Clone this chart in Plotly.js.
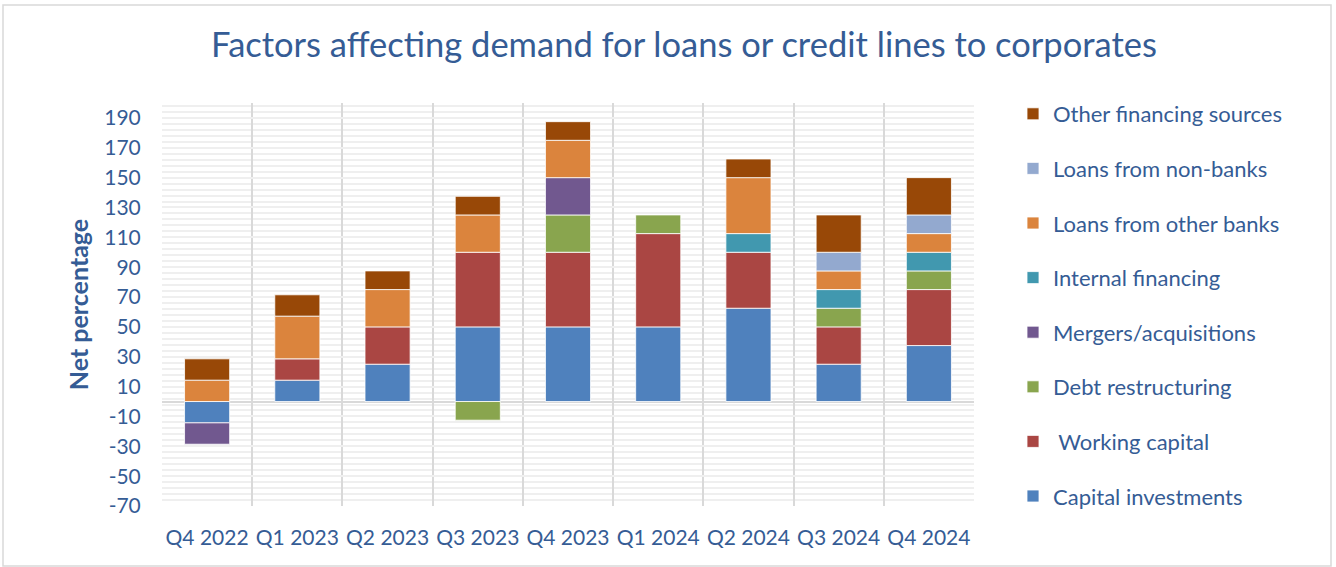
<!DOCTYPE html>
<html>
<head>
<meta charset="utf-8">
<script src="https://cdn.plot.ly/plotly-3.0.1.min.js"></script>
<style>
html,body{margin:0;padding:0;background:#fff;}
#chart{width:1336px;height:567px;}
</style>
</head>
<body>
<div id="chart"></div>
<script>
const quarters = ["Q4 2022","Q1 2023","Q2 2023","Q3 2023","Q4 2023","Q1 2024","Q2 2024","Q3 2024","Q4 2024"];
const capitalInvestments = [-14.3, 14.3, 25, 50, 50, 50, 62.5, 25, 37.5];
const workingCapital     = [null, 14.3, 25, 50, 50, 62.5, 37.5, 25, 37.5];
const debtRestructuring  = [null, null, null, -12.5, 25, 12.5, null, 12.5, 12.5];
const mergersAcquisitions= [-14.3, null, null, null, 25, null, null, null, null];
const internalFinancing  = [null, null, null, null, null, null, 12.5, 12.5, 12.5];
const loansOtherBanks    = [14.3, 28.6, 25, 25, 25, null, 37.5, 12.5, 12.5];
const loansNonBanks      = [null, null, null, null, null, null, null, 12.5, 12.5];
const otherFinancing     = [14.3, 14.3, 12.5, 12.5, 12.5, null, 12.5, 25, 25];
const yTickLabels = ["-70","-50","-30","-10","10","30","50","70","90","110","130","150","170","190"];

const seriesNames = ["Capital investments"," Working capital","Debt restructuring","Mergers/acquisitions","Internal financing","Loans from other banks","Loans from non-banks","Other financing sources"];
const seriesValues = [capitalInvestments, workingCapital, debtRestructuring, mergersAcquisitions, internalFinancing, loansOtherBanks, loansNonBanks, otherFinancing];
const seriesColors = ["#4F81BD","#AA4643","#89A54E","#71588F","#4198AF","#DB843D","#93A9CF","#984807"];

const txt = "#355C95";
const FONT = "Lato, 'Open Sans', sans-serif";

const traces = seriesNames.map((n,i)=>({
  type:'bar', name:n, x:quarters, y:seriesValues[i],
  legendgroup:'g'+i, legendrank: 1000 - i,
  marker:{color:seriesColors[i], line:{color:'rgba(255,255,255,0.8)', width:1}},
  hoverinfo:'x+y+name'
}));

const L = 162, R = 974, T = 103, B = 506, W = 1336, H = 567;
const pw = R-L, ph = B-T;
const px = v => (v-L)/pw, py = v => (B-v)/ph;

const layout = {
  width:W, height:H,
  margin:{l:L, r:W-R, t:T, b:H-B, pad:0},
  paper_bgcolor:'#fff', plot_bgcolor:'#fff',
  barmode:'relative', bargap:0.5,
  font:{family:FONT, color:txt},
  title:{text:"Factors affecting demand for loans or credit lines to corporates",
    font:{family:FONT, size:34.5, color:txt},
    xref:'container', x:684/W, xanchor:'center',
    yref:'container', y:1-45/H, yanchor:'middle'},
  xaxis:{type:'category', tickson:'boundaries', showgrid:true, gridcolor:'#d9d9d9', gridwidth:2,
    ticks:'', ticklabelstandoff:17, tickangle:0,
    tickfont:{family:FONT, size:21, color:txt}, showline:false, zeroline:false, fixedrange:true},
  yaxis:{range:[-70,200], tickmode:'array', tickvals:yTickLabels.map(Number), ticktext:yTickLabels,
    showgrid:true, gridcolor:'#efefef', gridwidth:2,
    minor:{dtick:4, tick0:-70, showgrid:true, gridcolor:'#efefef', gridwidth:2},
    zeroline:true, zerolinecolor:'#d9d9d9', zerolinewidth:2,
    ticks:'outside', ticklen:16, tickcolor:'rgba(0,0,0,0)',
    tickfont:{family:FONT, size:21, color:txt},
    title:{text:"Net percentage", font:{family:FONT, size:25, color:txt, weight:'bold'}, standoff:8},
    fixedrange:true},
  legend:{x:px(1013), xanchor:'left', y:py(93), yanchor:'top', maxheight:600,
    traceorder:'grouped', tracegroupgap:23,
    font:{family:FONT, size:22, color:txt}, bgcolor:'rgba(0,0,0,0)'},
  shapes:[{type:'rect', xref:'paper', yref:'paper',
    x0:px(3), x1:px(1331), y0:py(566), y1:py(5),
    line:{color:'#d9d9d9', width:1.5}, fillcolor:'rgba(0,0,0,0)', layer:'below'}]
};

Plotly.newPlot('chart', traces, layout, {displayModeBar:false, staticPlot:true});
</script>
</body>
</html>
